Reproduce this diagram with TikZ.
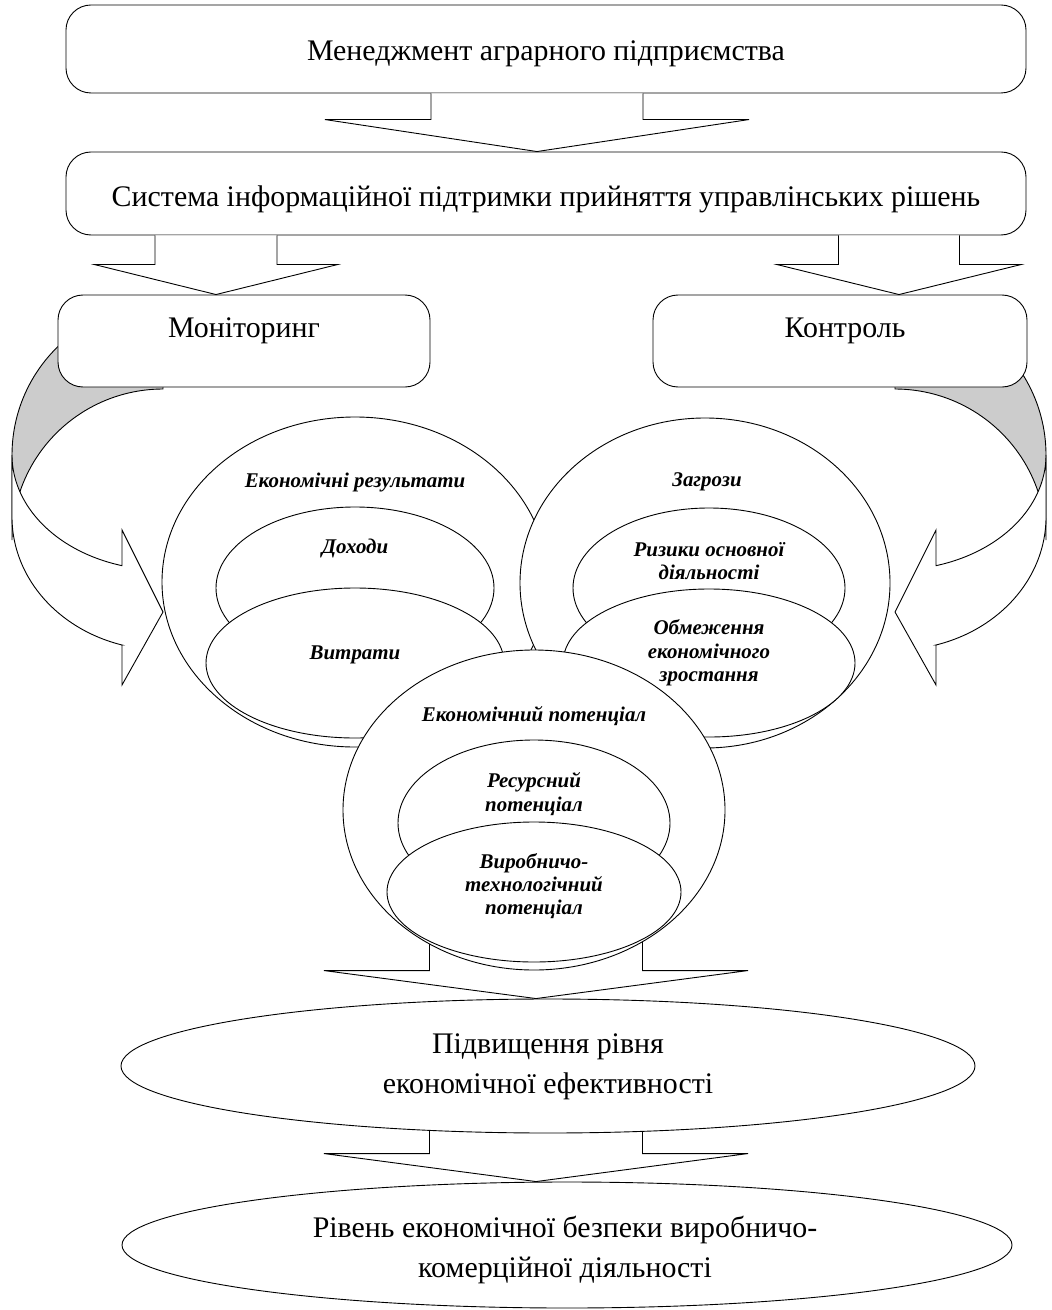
\documentclass[tikz,border=0pt]{standalone}
\usepackage{fontspec}
\setmainfont{Liberation Serif}
\usetikzlibrary{shapes.geometric,calc}
\pgfdeclarelayer{bg}
\pgfsetlayers{bg,main}
\tikzset{
  box/.style={draw, fill=white, rounded corners=25bp, line width=0.9bp, inner sep=0pt},
  oval/.style={draw, fill=white, ellipse, inner sep=0pt, line width=0.9bp},
  blk/.style={draw, fill=white, line width=0.9bp, line join=miter},
  band/.style={draw, line width=0.9bp},
  bigtxt/.style={font=\fontsize{30}{40}\selectfont, align=center, inner sep=0pt},
  smtxt/.style={font=\fontsize{21}{23.5}\selectfont\bfseries\itshape, align=center, inner sep=0pt},
}
% block arrow: #1 start (gives y of shaft top), #2 tip, #3 shaft half width, #4 head half width, #5 head length
\newcommand{\blkarrow}[5]{%
  \draw[blk] let \p1=#1, \p2=#2 in
    ({\x2-#3bp},\y1) -- ({\x2-#3bp},{\y2+#5bp}) -- ({\x2-#4bp},{\y2+#5bp}) -- (\x2,\y2)
    -- ({\x2+#4bp},{\y2+#5bp}) -- ({\x2+#3bp},{\y2+#5bp}) -- ({\x2+#3bp},\y1);
}
\newcommand{\backband}{%
  \path[band, fill=gray!40]
    plot[domain=270:180, samples=50] ({163+151*cos(\x)},{455+151*sin(\x)})
    -- plot[domain=180:270, samples=50] ({163+151*cos(\x)},{540+151*sin(\x)}) -- cycle;
}
\newcommand{\frontband}{%
  \path[band, fill=white]
    plot[domain=180:105.75, samples=50] ({163+151*cos(\x)},{455+115*sin(\x)})
    -- (122,530) -- (163,612) -- (122,685) -- (122,645)
    -- plot[domain=105.75:180, samples=50] ({163+151*cos(\x)},{517+133*sin(\x)}) -- cycle;
}
\begin{document}
\begin{tikzpicture}[x=1bp,y=-1bp]
\useasboundingbox (0,0) rectangle (1051,1310);

% top boxes
\node[box, minimum width=960bp, minimum height=88bp] (mgmt) at (546,49) {};
\node[bigtxt] (mgmtt) at (546,54) {Менеджмент аграрного підприємства};
\node[box, minimum width=960bp, minimum height=83bp] (sys) at (546,193.5) {};
\node[bigtxt] (syst) at (546,199) {Система інформаційної підтримки прийняття управлінських рішень};

% monitoring / control boxes
\node[box, minimum width=372bp, minimum height=92bp] (mon) at (244,341) {};
\node[bigtxt] (mont) at (244,331) {Моніторинг};
\node[box, minimum width=374bp, minimum height=92bp] (ctl) at (840,341) {};
\node[bigtxt] (ctlt) at (845,331) {Контроль};

% block arrows between boxes
\blkarrow{(mgmt.south)}{($(sys.north)+(-9,0)$)}{106}{212}{32}
\blkarrow{(sys.south)}{($(mon.north)+(-28,0)$)}{61}{121.5}{30}
\blkarrow{(sys.south)}{($(ctl.north)+(59,0)$)}{60.5}{122}{30}

% front bands of curved arrows
\frontband
\begin{scope}[shift={(1058,0)}, xscale=-1]
  \frontband
\end{scope}

% economic results
\node[oval, minimum width=386bp, minimum height=330bp] (c1) at (355,582) {};
\node[oval, minimum width=278bp, minimum height=162bp] (inc) at (355,588) {};
\node[oval, minimum width=298bp, minimum height=150bp] (cost) at (355,663) {};
\node[smtxt] (c1t) at (355,482) {Економічні результати};
\node[smtxt] (inct) at (355,548) {Доходи};
\node[smtxt] (costt) at (355,655) {Витрати};

% threats
\node[oval, minimum width=370bp, minimum height=330bp] (c2) at (705,583) {};
\node[oval, minimum width=272bp, minimum height=160bp] (risk) at (709,588) {};
\node[oval, minimum width=292bp, minimum height=148bp] (lim) at (709,663) {};
\node[smtxt] (c2t) at (707,482) {Загрози};
\node[smtxt] (riskt) at (709,561) {Ризики основної\\діяльності};
\node[smtxt] (limt) at (709,653) {Обмеження\\економічного\\зростання};

% potential
\node[oval, minimum width=382bp, minimum height=320bp] (c3) at (534,810) {};
\node[oval, minimum width=272bp, minimum height=166bp] (res) at (534,823) {};
\node[oval, minimum width=294bp, minimum height=140bp] (prod) at (534,892) {};
\node[smtxt] (c3t) at (534,716) {Економічний потенціал};
\node[smtxt] (rest) at (534,794) {Ресурсний\\потенціал};
\node[smtxt] (prodt) at (534,886) {Виробничо-\\технологічний\\потенціал};

% bottom ellipses
\node[oval, minimum width=854bp, minimum height=134bp] (e1) at (548,1066) {};
\node[bigtxt] (e1t) at (548,1067) {Підвищення рівня\\економічної ефективності};
\node[oval, minimum width=890bp, minimum height=126bp] (e2) at (567,1245) {};
\node[bigtxt] (e2t) at (565,1250) {Рівень економічної безпеки виробничо-\\комерційної діяльності};

\begin{pgfonlayer}{bg}
  \backband
  \begin{scope}[shift={(1058,0)}, xscale=-1]
    \backband
  \end{scope}
  \blkarrow{(c3.center)}{($(e1.north)+(-12,0)$)}{106.5}{212}{28}
  \blkarrow{(e1.center)}{($(e2.north)+(-31,0)$)}{106.5}{212}{28}
\end{pgfonlayer}
\end{tikzpicture}
\end{document}
